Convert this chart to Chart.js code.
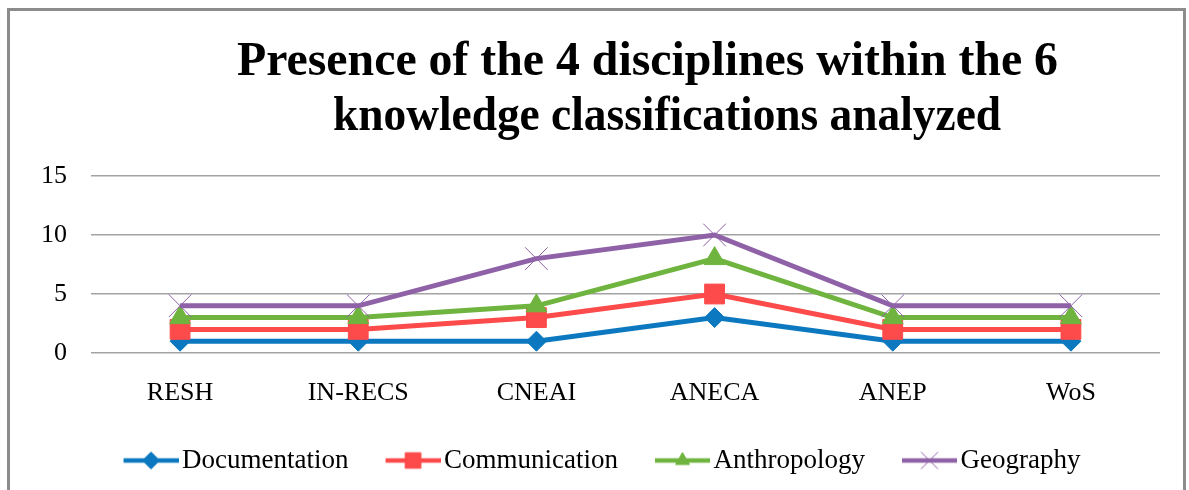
<!DOCTYPE html>
<html>
<head>
<meta charset="utf-8">
<script src="https://cdn.jsdelivr.net/npm/chart.js@4.4.1/dist/chart.umd.min.js"></script>
<style>
  body { margin: 0; background: #fff; }
  #wrap { position: absolute; left: 0; top: 0; width: 1189px; height: 490px; }
  #frame { position: absolute; left: 7px; top: 8px; width: 1173px; height: 490px;
           border: 3px solid #8c8c8c; border-bottom: none; pointer-events: none; }
</style>
</head>
<body>
<div id="wrap">
  <canvas id="myLineChart" width="1189" height="490"></canvas>
  <div id="frame"></div>
</div>
<script>
var categories = ["RESH", "IN-RECS", "CNEAI", "ANECA", "ANEP", "WoS"];
var documentation = [1, 1, 1, 3, 1, 1];
var communication = [2, 2, 3, 5, 2, 2];
var anthropology = [3, 3, 4, 8, 3, 3];
var geography = [4, 4, 8, 10, 4, 4];
var yTicks = [0, 5, 10, 15];
var titleLines = ["Presence of the 4 disciplines within the 6", "knowledge classifications analyzed"];

var serif = '"Liberation Serif", "Times New Roman", serif';

// line + marker picture for each legend entry (Excel style),
// left part of the picture is left empty so the line sits next to the text
function legendIcon(color, style, radius) {
  var c = document.createElement('canvas');
  c.width = 92;
  c.height = 26;
  var g = c.getContext('2d');
  g.strokeStyle = color;
  g.lineWidth = 4.5;
  g.beginPath();
  g.moveTo(37, 13);
  g.lineTo(92, 13);
  g.stroke();
  g.fillStyle = color;
  g.lineWidth = 1;
  Chart.helpers.drawPoint(g, { pointStyle: style, radius: radius, rotation: 0, borderWidth: 1 }, 64.5, 13);
  return c;
}

var series = [
  { label: "Documentation", data: documentation, color: '#0b78bf', style: 'rectRot', r: 10, lr: 8.5 },
  { label: "Communication", data: communication, color: '#fd4a4a', style: 'rect', r: 14, lr: 11 },
  { label: "Anthropology", data: anthropology, color: '#6fb43f', style: 'triangle', r: 12, lr: 8 },
  { label: "Geography", data: geography, color: '#8f62a8', style: 'crossRot', r: 16, lr: 12 }
];

// title: two centred lines, each squeezed a little like the original
var titlePlugin = {
  id: 'chartTitle',
  afterDraw: function (chart) {
    var ctx = chart.ctx;
    var widths = [821, 668];
    var cx = [647.5, 667];
    var by = [75, 130];
    ctx.save();
    ctx.font = 'bold 48px ' + serif;
    ctx.fillStyle = '#000';
    ctx.textAlign = 'center';
    ctx.textBaseline = 'alphabetic';
    for (var i = 0; i < titleLines.length; i++) {
      var sx = widths[i] / ctx.measureText(titleLines[i]).width;
      ctx.save();
      ctx.translate(cx[i], by[i]);
      ctx.scale(sx, 1);
      ctx.fillText(titleLines[i], 0, 0);
      ctx.restore();
    }
    ctx.restore();
  }
};

function renderLineChart() {
  var ctx = document.getElementById("myLineChart");
  var datasets = series.map(function (s, i) {
    return {
      label: s.label,
      data: s.data,
      borderColor: s.color,
      backgroundColor: s.color,
      borderWidth: 5,
      pointStyle: s.style,
      pointRadius: s.r,
      pointHoverRadius: s.r,
      pointBorderWidth: 1,
      pointBackgroundColor: s.color,
      pointBorderColor: s.color,
      tension: 0,
      fill: false,
      order: series.length - i
    };
  });

  new Chart(ctx, {
    type: 'line',
    data: {
      labels: categories,
      datasets: datasets
    },
    plugins: [titlePlugin],
    options: {
      responsive: false,
      animation: false,
      layout: {
        padding: { top: 176, left: 17, right: 29, bottom: 6 }
      },
      plugins: {
        title: { display: false },
        tooltip: { enabled: false },
        legend: {
          position: 'bottom',
          labels: {
            color: '#000',
            font: { family: serif, size: 27 },
            usePointStyle: true,
            pointStyleWidth: 72,
            padding: 10,
            generateLabels: function (chart) {
              return series.map(function (s, i) {
                return {
                  text: s.label,
                  datasetIndex: i,
                  hidden: !chart.isDatasetVisible(i),
                  pointStyle: legendIcon(s.color, s.style, s.lr),
                  fontColor: '#000',
                  lineWidth: 0
                };
              });
            }
          }
        }
      },
      scales: {
        x: {
          offset: true,
          grid: { display: false },
          border: { display: false },
          ticks: { color: '#000', font: { family: serif, size: 26 }, padding: 17, maxRotation: 0 },
          afterFit: function (scale) { scale.height = 84; }
        },
        y: {
          min: yTicks[0],
          max: yTicks[yTicks.length - 1],
          ticks: { stepSize: yTicks[1] - yTicks[0], color: '#000', font: { family: serif, size: 26 }, padding: 24 },
          grid: { color: '#a3a3a3', lineWidth: 1.5, drawTicks: false },
          border: { display: false }
        }
      }
    }
  });
}

renderLineChart();
</script>
</body>
</html>
